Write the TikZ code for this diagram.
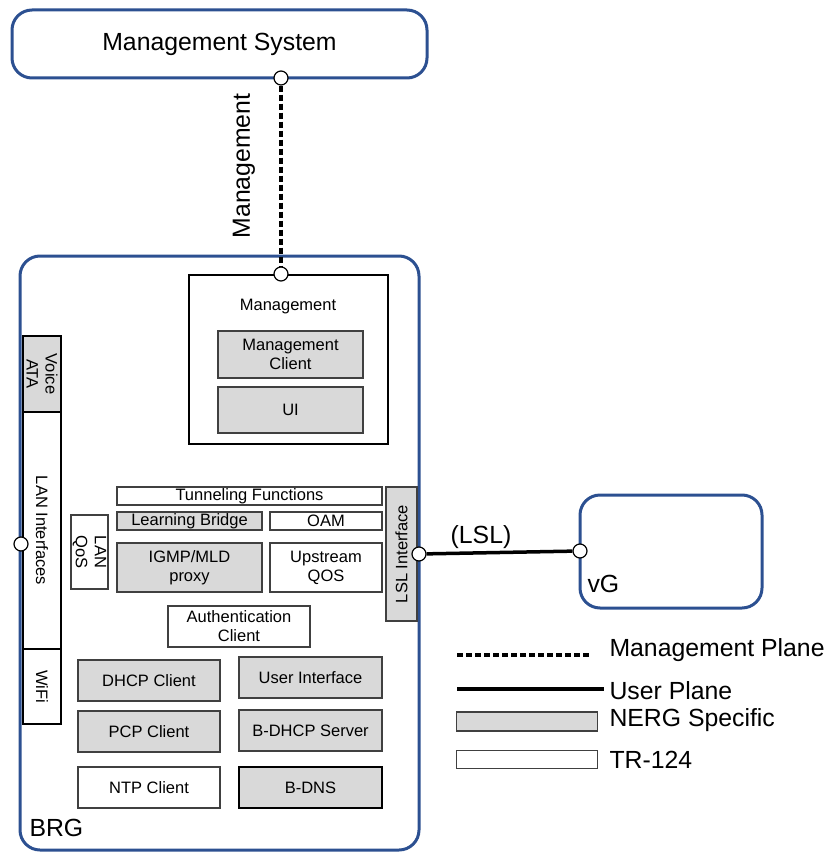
\documentclass[tikz,border=0pt]{standalone}
\usepackage{fontspec}
\setmainfont{Liberation Sans}
\usetikzlibrary{positioning}
\definecolor{brgblue}{RGB}{44,80,145}
\definecolor{nerggray}{RGB}{217,217,217}
\definecolor{boxline}{RGB}{64,64,64}

\begin{document}
\begin{tikzpicture}[x=1pt, y=-1pt,
  sysbox/.style={rectangle, draw=brgblue, line width=3pt, rounded corners=20pt,
                 inner sep=0pt, outer sep=0pt},
  nerg/.style={rectangle, draw=boxline, line width=1.3pt, fill=nerggray,
               align=center, inner sep=0pt, outer sep=0pt,
               font=\fontsize{16.5}{19}\selectfont},
  tr/.style={nerg, fill=white},
  lanbox/.style={nerg, draw=black, line width=1.8pt},
  portc/.style={circle, draw, fill=white, line width=1.2pt, minimum size=14pt,
                inner sep=0pt},
  big/.style={font=\fontsize{24.8}{28}\selectfont},
  mgmtline/.style={line width=3.5pt, dash pattern=on 6pt off 3pt},
  userline/.style={line width=3.5pt}
]
  \useasboundingbox (0,0) rectangle (830,853);

  % systems
  \node[sysbox, minimum width=415pt, minimum height=68pt] (mgmtsys) at (219.5,44) {};
  \node[big] at (mgmtsys.center) {Management System};
  \node[sysbox, minimum width=399pt, minimum height=594pt] (brg) at (219.5,553) {};
  \node[big, anchor=west] (brglbl) at (26,828) {BRG};
  \node[sysbox, minimum width=182pt, minimum height=113pt] (vg) at (671,551.5) {};
  \node[big, anchor=west] (vglbl) at (584,584) {vG};

  % management block
  \node[rectangle, draw, line width=2pt, minimum width=199pt, minimum height=169pt,
        inner sep=0pt, outer sep=0pt] (mgmt) at (288.5,359.5) {};
  \node[font=\fontsize{16.5}{19}\selectfont] (mgmtlbl) at (288,307) {Management};
  \node[nerg, minimum width=145pt, minimum height=47pt] (mclient) at (290.5,354.5) {Management\\Client};
  \node[nerg, minimum width=145pt, minimum height=46pt, below=9pt of mclient] (ui) {UI};

  % LAN side
  \node[lanbox, rotate=-90, minimum width=76pt, minimum height=38pt] (voice) at (42,374) {Voice\\ATA};
  \node[lanbox, fill=white, rotate=-90, minimum width=237pt, minimum height=38pt] (lan) at (42,530.5) {LAN Interfaces};
  \node[lanbox, fill=white, rotate=-90, minimum width=75pt, minimum height=38pt] (wifi) at (42,686.5) {WiFi};
  \node[tr, rotate=-90, minimum width=74pt, minimum height=37pt] (lanqos) at (89.5,552) {LAN\\QoS};

  % forwarding functions
  \node[tr, minimum width=265pt, minimum height=18pt] (tunnel) at (249.5,496) {Tunneling Functions};
  \node[nerg, minimum width=145pt, minimum height=18pt] (lbridge) at (189.5,521) {Learning Bridge};
  \node[tr, minimum width=112pt, minimum height=18pt] (oam) at (326,521) {OAM};
  \node[nerg, minimum width=145pt, minimum height=49pt] (igmp) at (189.5,567.5) {IGMP/MLD\\proxy};
  \node[tr, minimum width=112pt, minimum height=49pt] (upqos) at (326,567.5) {Upstream\\QOS};
  \node[nerg, rotate=90, minimum width=134pt, minimum height=31pt] (lslif) at (401.5,554) {LSL Interface};

  % services
  \node[tr, minimum width=142pt, minimum height=41pt] (auth) at (239,626.5) {Authentication\\Client};
  \node[nerg, minimum width=142pt, minimum height=41pt] (dhcp) at (149,680.5) {DHCP Client};
  \node[nerg, minimum width=142pt, minimum height=41pt, below=10pt of dhcp] (pcp) {PCP Client};
  \node[tr, minimum width=142pt, minimum height=41pt, below=15pt of pcp] (ntp) {NTP Client};
  \node[nerg, minimum width=143pt, minimum height=41pt] (uif) at (310.5,677.5) {User Interface};
  \node[nerg, minimum width=143pt, minimum height=41pt, below=12pt of uif] (bdhcp) {B-DHCP Server};
  \node[nerg, draw=black, minimum width=143pt, minimum height=41pt, below=16pt of bdhcp] (bdns) {B-DNS};

  % ports and links
  \node[portc] (pms) at (281,78) {};
  \node[portc] (pmg) at (281,274) {};
  \node[portc] (plan) at (21,544) {};
  \node[portc] (plsl) at (419,554) {};
  \node[portc] (pvg) at (580,551) {};
  \draw[mgmtline] (pms) -- (pmg);
  \node[big, rotate=90] (mgmtlink) at (244,166) {Management};
  \draw[userline] (plsl) -- (pvg);
  \node[big] (lsllbl) at (481,537) {(LSL)};

  % legend
  \coordinate (lgm1) at (457,655);
  \coordinate (lgm2) at (590,655);
  \coordinate (lgu1) at (457,689);
  \coordinate (lgu2) at (604,689);
  \draw[mgmtline] (lgm1) -- (lgm2);
  \draw[userline] (lgu1) -- (lgu2);
  \node[nerg, minimum width=141pt, minimum height=19pt] (lgnerg) at (527,721.5) {};
  \node[tr, minimum width=141pt, minimum height=18pt] (lgtr) at (527,759.5) {};
  \node[big, anchor=west] (lgmtxt) at (606,650) {Management Plane};
  \node[big, anchor=west] (lgutxt) at (606,691) {User Plane};
  \node[big, anchor=west] (lgntxt) at (606,720) {NERG Specific};
  \node[big, anchor=west] (lgttxt) at (606,760) {TR-124};
\end{tikzpicture}
\end{document}
